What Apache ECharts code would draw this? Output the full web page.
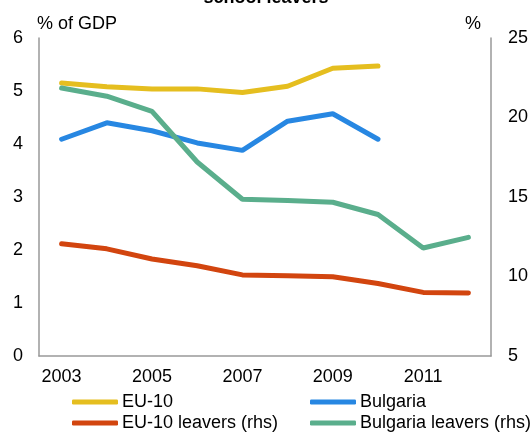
<!DOCTYPE html>
<html>
<head>
<meta charset="utf-8">
<script src="https://cdn.jsdelivr.net/npm/echarts@6/dist/echarts.min.js"></script>
<style>
  html, body { margin: 0; padding: 0; background: #fff; }
  #chart { width: 532px; height: 432px; }
</style>
</head>
<body>
<div id="chart"></div>
<script>
// Years on the category axis
const years = ['2003','2004','2005','2006','2007','2008','2009','2010','2011','2012'];

// Public spending on education, % of GDP (left axis)
const eu10 = [5.15, 5.08, 5.04, 5.04, 4.97, 5.09, 5.43, 5.47, null, null];
const bulgaria = [4.09, 4.40, 4.25, 4.02, 3.88, 4.43, 4.57, 4.09, null, null];

// Early school leavers, % (right axis)
const eu10Leavers = [12.06, 11.74, 11.1, 10.68, 10.1, 10.05, 9.98, 9.56, 9.0, 8.96];
const bulgariaLeavers = [21.85, 21.34, 20.39, 17.2, 14.86, 14.78, 14.67, 13.9, 11.79, 12.46];

// Axis tick labels
const leftTicks = [0, 1, 2, 3, 4, 5, 6];
const rightTicks = [5, 10, 15, 20, 25];

const FONT = 'Liberation Sans, Arial, sans-serif';
const FS = 18;
const colors = {
  eu10: '#E5BE1F',
  bulgaria: '#2787E2',
  eu10Leavers: '#D2450F',
  bulgariaLeavers: '#5AAE8C'
};

const legendBase = {
  itemWidth: 46,
  itemHeight: 5,
  itemGap: 0,
  icon: 'roundRect',
  textStyle: { fontFamily: FONT, fontSize: FS, color: '#000', padding: [0, 0, 0, -1] },
  selectedMode: false
};

const chart = echarts.init(document.getElementById('chart'), null, { renderer: 'canvas' });
chart.setOption({
  animation: false,
  title: {
    text: 'school leavers',
    left: 'center',
    top: -16,
    textStyle: { fontFamily: FONT, fontSize: 18, fontWeight: 'bold', color: '#000' }
  },
  legend: [
    Object.assign({}, legendBase, { data: ['EU-10'], left: 67, top: 388 }),
    Object.assign({}, legendBase, { data: ['Bulgaria'], left: 305, top: 388 }),
    Object.assign({}, legendBase, { data: ['EU-10 leavers (rhs)'], left: 67, top: 409 }),
    Object.assign({}, legendBase, { data: ['Bulgaria leavers (rhs)'], left: 305, top: 409 })
  ],
  grid: { left: 39, right: 41, top: 38, bottom: 76 },
  xAxis: {
    type: 'category',
    data: years,
    boundaryGap: true,
    axisLine: { lineStyle: { color: '#999', width: 1.5 } },
    axisTick: { show: false },
    axisLabel: {
      interval: 1,
      fontFamily: FONT, fontSize: FS, color: '#000', margin: 12
    }
  },
  yAxis: [
    {
      type: 'value',
      min: leftTicks[0],
      max: leftTicks[leftTicks.length - 1],
      interval: 1,
      name: '% of GDP',
      nameLocation: 'end',
      nameGap: 5,
      nameTextStyle: { fontFamily: FONT, fontSize: FS, color: '#000', align: 'left', padding: [0, 0, 0, -2] },
      axisLine: { show: true, lineStyle: { color: '#999', width: 1.5 } },
      axisTick: { show: false },
      splitLine: { show: false },
      axisLabel: { fontFamily: FONT, fontSize: FS, color: '#000', margin: 16 }
    },
    {
      type: 'value',
      min: rightTicks[0],
      max: rightTicks[rightTicks.length - 1],
      interval: 5,
      position: 'right',
      name: '%',
      nameLocation: 'end',
      nameGap: 5,
      nameTextStyle: { fontFamily: FONT, fontSize: FS, color: '#000', align: 'right', padding: [0, 10, 0, 0] },
      axisLine: { show: true, lineStyle: { color: '#999', width: 1.5 } },
      axisTick: { show: false },
      splitLine: { show: false },
      axisLabel: { fontFamily: FONT, fontSize: FS, color: '#000', margin: 17 }
    }
  ],
  series: [
    {
      name: 'EU-10', type: 'line', yAxisIndex: 0, data: eu10,
      symbol: 'none', lineStyle: { width: 5, color: colors.eu10, cap: 'round' },
      itemStyle: { color: colors.eu10 }
    },
    {
      name: 'Bulgaria', type: 'line', yAxisIndex: 0, data: bulgaria,
      symbol: 'none', lineStyle: { width: 5, color: colors.bulgaria, cap: 'round' },
      itemStyle: { color: colors.bulgaria }
    },
    {
      name: 'EU-10 leavers (rhs)', type: 'line', yAxisIndex: 1, data: eu10Leavers,
      symbol: 'none', lineStyle: { width: 5, color: colors.eu10Leavers, cap: 'round' },
      itemStyle: { color: colors.eu10Leavers }
    },
    {
      name: 'Bulgaria leavers (rhs)', type: 'line', yAxisIndex: 1, data: bulgariaLeavers,
      symbol: 'none', lineStyle: { width: 5, color: colors.bulgariaLeavers, cap: 'round' },
      itemStyle: { color: colors.bulgariaLeavers }
    }
  ]
});
</script>
</body>
</html>
